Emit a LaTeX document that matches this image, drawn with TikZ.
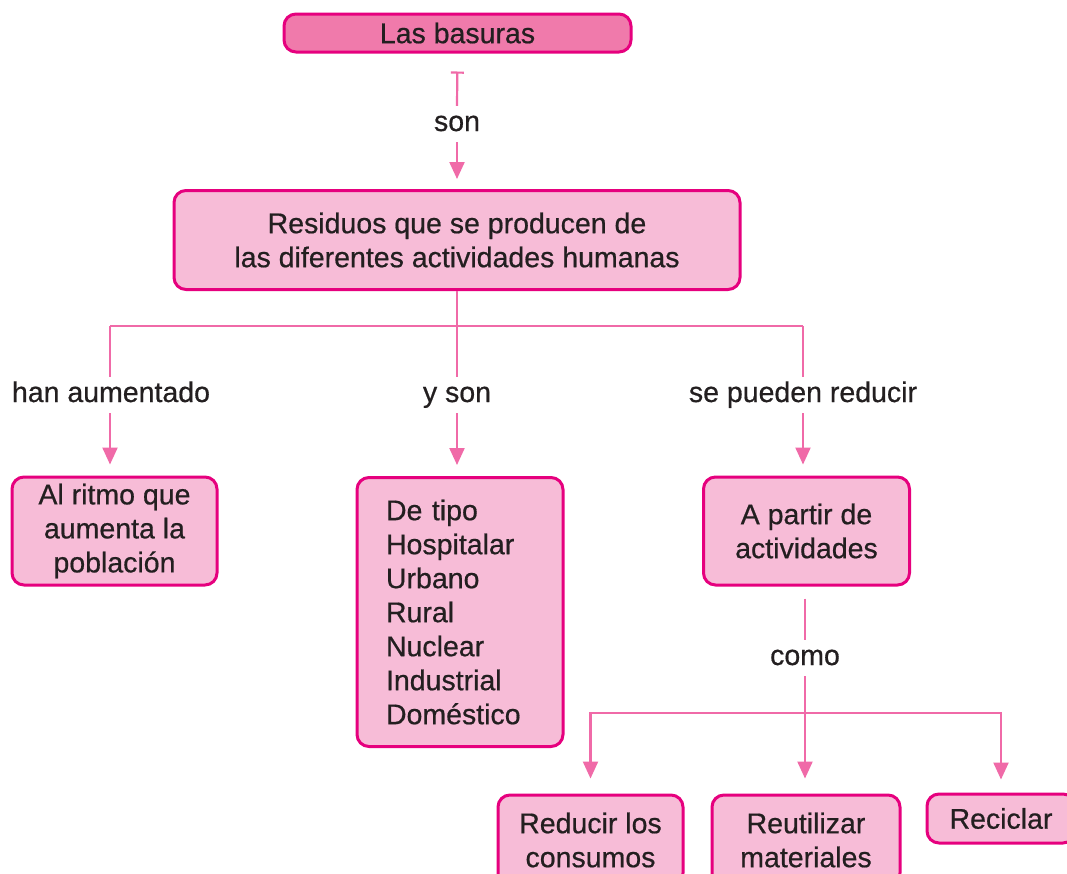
\documentclass[tikz,border=0pt]{standalone}
\usepackage{fontspec}
\setmainfont[FakeBold=0.6]{Liberation Sans}
\usetikzlibrary{arrows.meta}
\definecolor{mag}{HTML}{E6007E}
\definecolor{lpink}{HTML}{F7BCD7}
\definecolor{dpink}{HTML}{F07AAB}
\definecolor{connc}{HTML}{F06AA8}
\definecolor{ink}{HTML}{231F20}
\begin{document}
\begin{tikzpicture}[x=1pt,y=-1pt,
  box/.style={draw=mag, line width=3pt, fill=lpink, rounded corners=12pt, inner sep=0pt,
    align=center, text=ink, font=\fontsize{28.5}{34}\selectfont},
  lbl/.style={inner xsep=0pt, inner ysep=5pt, text=ink, font=\fontsize{28.5}{34}\selectfont,
    text height=20pt, text depth=6pt},
  conn/.style={draw=connc, line width=2.2pt},
  arr/.style={conn, -{Triangle[width=15pt,length=17pt]}},
]
\useasboundingbox (0,0) rectangle (1067,873);
\fill[white] (0,0) rectangle (1067,873);
\clip (0,0) rectangle (1067,873);

% boxes
\node[box, fill=dpink, minimum width=347pt, minimum height=38pt] (top) at (457.5,33) {Las basuras};
\node[box, minimum width=566pt, minimum height=99pt] (resid) at (457,240)
  {Residuos que se producen de\\las diferentes actividades humanas};
\node[box, minimum width=205pt, minimum height=108pt] (ritmo) at (114.5,531)
  {Al ritmo que\\aumenta la\\población};
\node[box, text width=148pt, inner xsep=29pt, align=left, minimum height=269pt] (tipo) at (460,612)
  {De tipo\\Hospitalar\\Urbano\\Rural\\Nuclear\\Industrial\\Doméstico};
\node[box, minimum width=206pt, minimum height=108pt] (partir) at (806.5,531)
  {A partir de\\actividades};
\node[box, minimum width=185pt, minimum height=90pt] (reduc) at (590.5,840)
  {Reducir los\\consumos};
\node[box, minimum width=188pt, minimum height=90pt] (reut) at (806,840)
  {Reutilizar\\materiales};
\node[box, minimum width=148pt, minimum height=49pt] (recic) at (1001,818.5) {Reciclar};

% labels
\node[lbl] (lson) at (457,124) {son};
\node[lbl] (lha) at (111,395) {han aumentado};
\node[lbl] (lys) at (457,395) {y son};
\node[lbl] (lse) at (803,395) {se pueden reducir};
\node[lbl] (lcomo) at (805,658) {como};

% junctions
\coordinate (j1) at (110,326);
\coordinate (j3) at (803,326);
\coordinate (j4) at (805,713);

% connectors
\draw[conn, {Bar[width=13pt]}-, shorten <=18pt] (top.south) -- (lson.north);
\draw[arr, shorten >=10pt] (lson.south) -- (resid.north);
\draw[conn] (resid.south) -- (lys.north);
\draw[conn] (j1) -- (j3);
\draw[conn] (j1) -- (j1 |- lha.north);
\draw[conn] (j3) -- (lse.north);
\draw[arr, shorten >=11pt] (j1 |- lha.south) -- (j1 |- ritmo.north);
\draw[arr, shorten >=11pt] (lys.south) -- (lys.south |- tipo.north);
\draw[arr, shorten >=11pt] (lse.south) -- (lse.south |- partir.north);
\draw[conn, shorten <=12pt] (lcomo.north |- partir.south) -- (lcomo.north);
\draw[arr, shorten >=15pt] (lcomo.south) -- (lcomo.south |- reut.north);
\draw[arr, shorten >=15pt] (j4) -| (reduc.north);
\draw[arr, shorten >=13pt] (j4) -| (recic.north);
\end{tikzpicture}
\end{document}
